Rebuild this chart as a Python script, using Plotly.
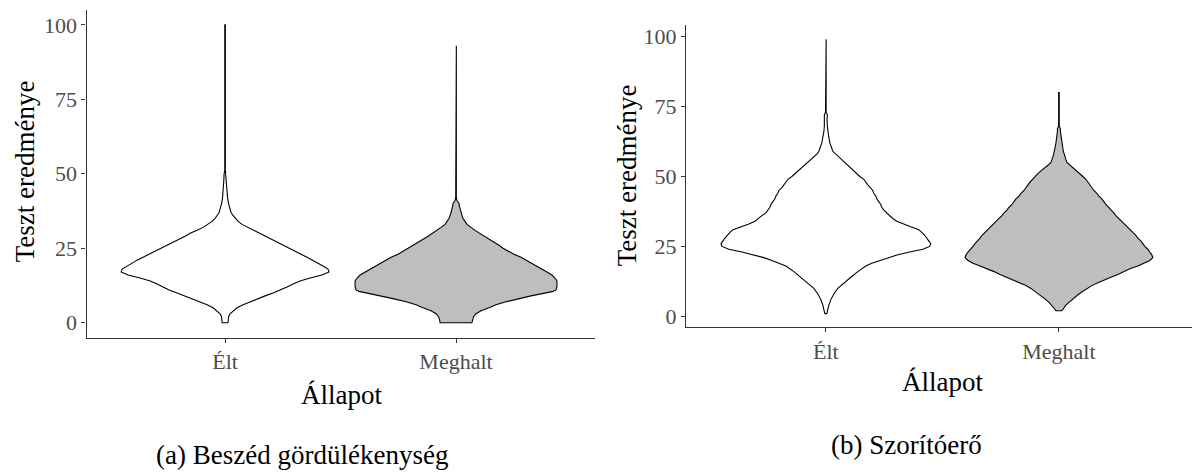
import plotly.graph_objects as go

FONT = "Liberation Serif, Times New Roman, serif"
W, H = 1192, 475

categories = ["Élt", "Meghalt"]
y_tick_values = [0, 25, 50, 75, 100]
y_title = "Teszt eredménye"
x_title = "Állapot"
caption_a = "(a) Beszéd gördülékenység"
caption_b = "(b) Szorítóerő"

# (a) Beszéd gördülékenység: estimated density of the test score per group
beszed_elt_score = [0, 2, 3, 4, 5, 6, 7, 8, 9, 10, 11, 12, 13, 14, 15, 16, 17, 18, 19, 20,
                    21, 22, 23, 24, 25, 26, 27, 28, 29, 30, 31, 32, 33, 34, 35, 36, 37, 38,
                    40, 42, 44, 46, 48, 50, 51, 100]
beszed_elt_density = [3, 3.5, 5, 8, 12, 18, 25, 32, 40, 48, 56, 62, 68, 75, 85, 97, 104, 103,
                      98, 93, 88, 82, 76, 70, 65, 58, 52, 46, 40, 35, 28, 22, 17, 13, 10, 8,
                      6, 5, 3.5, 2.5, 2, 1.5, 1.2, 1, 0.3, 0.3]

beszed_meghalt_score = [0, 1, 2, 3, 4, 5, 6, 7, 8, 9, 10, 10.5, 11, 12, 13, 14, 15, 16, 17,
                        18, 19, 20, 21, 22, 23, 24, 25, 26, 27, 28, 29, 30, 31, 32, 33, 34, 35,
                        36, 37, 38, 39, 40, 40.5, 41, 42, 93]
beszed_meghalt_density = [16, 16.5, 17.5, 20, 25, 33, 40, 50, 62, 75, 90, 97, 100, 101, 101,
                          101, 99, 96, 91, 86, 81, 75, 70, 65, 58, 52, 47, 43, 38, 33, 28, 24,
                          19, 15, 11, 9, 7, 6, 5, 4, 3.5, 3, 2, 1, 0.3, 0.3]

# (b) Szorítóerő
szorito_elt_score = [1, 2, 4, 6, 8, 10, 12, 14, 16, 18, 19, 20, 21, 22, 23, 24, 25, 26, 27,
                     28, 29, 30, 31, 32, 33, 34, 35, 36, 37, 38, 39, 40, 41, 42, 43, 44, 45,
                     46, 47, 48, 49, 50, 51, 52, 53, 54, 55, 56, 57, 58, 59, 60, 62, 64, 66,
                     68, 70, 72, 73, 99]
szorito_elt_density = [1, 1.5, 3, 5, 8, 12, 18, 25, 32, 40, 46, 54, 62, 72, 84, 97, 104, 105,
                       103, 101, 99, 96, 93, 85, 77, 71, 67, 64, 60, 58, 56, 55, 53, 51, 50,
                       48, 47, 44, 42, 40, 38, 34, 31, 28, 25, 21, 18, 15, 12, 9, 7, 6, 4, 3,
                       2, 1.5, 1.2, 1.5, 0.3, 0.3]

szorito_meghalt_score = [2, 3, 4, 5, 6, 7, 8, 9, 10, 11, 12, 13, 14, 15, 16, 17, 18, 19, 20,
                         21, 22, 23, 24, 25, 26, 27, 28, 29, 30, 31, 32, 33, 34, 35, 36, 37,
                         38, 39, 40, 41, 42, 43, 44, 45, 46, 47, 48, 49, 50, 51, 52, 53, 54,
                         55, 56, 57, 58, 59, 60, 62, 64, 66, 67, 68, 80]
szorito_meghalt_density = [3, 5, 7, 10, 13, 16, 20, 24, 28, 33, 39, 45, 52, 59, 65, 71, 79,
                           86, 91, 94, 93, 91, 89, 86, 84, 82, 79, 77, 74, 71, 68, 66, 63, 60,
                           57, 55, 52, 50, 47, 45, 43, 40, 38, 35, 33, 31, 29, 27, 24, 21, 18,
                           15, 11, 8, 7, 6, 5, 4.5, 4, 3, 2, 1.5, 1.5, 0.3, 0.3]

FILLS = ["#FFFFFF", "#BEBEBE"]
HALF_WIDTH = 0.45  # widest violin of a panel spans 0.9 of a category slot


def violin_outline(center, scores, density, peak):
    """Closed outline of a mirrored density profile around a category."""
    half = [d / peak * HALF_WIDTH for d in density]
    xs = [center + h for h in half] + [center - h for h in reversed(half)]
    ys = list(scores) + list(reversed(scores))
    return xs + xs[:1], ys + ys[:1]


panels = [
    ("x", "y", [(beszed_elt_score, beszed_elt_density),
                (beszed_meghalt_score, beszed_meghalt_density)]),
    ("x2", "y2", [(szorito_elt_score, szorito_elt_density),
                  (szorito_meghalt_score, szorito_meghalt_density)]),
]

fig = go.Figure()
for xa, ya, groups in panels:
    peak = max(max(d) for _, d in groups)
    for i, (scores, density) in enumerate(groups):
        xs, ys = violin_outline(i + 1, scores, density, peak)
        fig.add_trace(go.Scatter(
            x=xs, y=ys, xaxis=xa, yaxis=ya, mode="lines", fill="toself",
            fillcolor=FILLS[i], line=dict(color="#000000", width=1.1),
            name=categories[i], showlegend=False, hoverinfo="skip",
        ))

axis_common = dict(
    showline=True, linecolor="#333333", linewidth=1.3,
    ticks="outside", ticklen=4, tickwidth=1, tickcolor="#333333",
    showgrid=False, zeroline=False,
    tickfont=dict(family=FONT, size=22, color="#4D4D4D"),
)

x_tick = dict(tickmode="array", tickvals=[1, 2], ticktext=categories)
y_tick = dict(tickmode="array", tickvals=y_tick_values,
              ticktext=[str(v) for v in y_tick_values])

fig.update_layout(
    width=W, height=H,
    margin=dict(l=0, r=0, t=0, b=0),
    paper_bgcolor="white", plot_bgcolor="white",
    xaxis=dict(domain=[86.5 / W, 594.6 / W], range=[0.4, 2.6], anchor="y",
               **x_tick, **axis_common),
    yaxis=dict(domain=[1 - 339 / H, 1 - 10 / H], range=[-5, 105], anchor="x",
               **y_tick, **axis_common),
    xaxis2=dict(domain=[686 / W, 1.0], range=[0.4, 2.571], anchor="y2",
                **x_tick, **axis_common),
    yaxis2=dict(domain=[1 - 328.7 / H, 1 - 24.9 / H], range=[-3.9, 104.2], anchor="x2",
                **y_tick, **axis_common),
)


def paper_text(text, px, py, size, angle=0):
    fig.add_annotation(
        text=text, x=px / W, y=1 - py / H, xref="paper", yref="paper",
        xanchor="center", yanchor="middle", showarrow=False, textangle=angle,
        font=dict(family=FONT, size=size, color="#000000"),
    )


paper_text(y_title, 25, 172, 27, -90)
paper_text(y_title, 627, 176, 27, -90)
paper_text(x_title, 341, 397, 27)
paper_text(x_title, 942, 384, 27)
paper_text(caption_a, 302, 457, 27)
paper_text(caption_b, 906, 447, 27)

fig.write_html("out.html")
